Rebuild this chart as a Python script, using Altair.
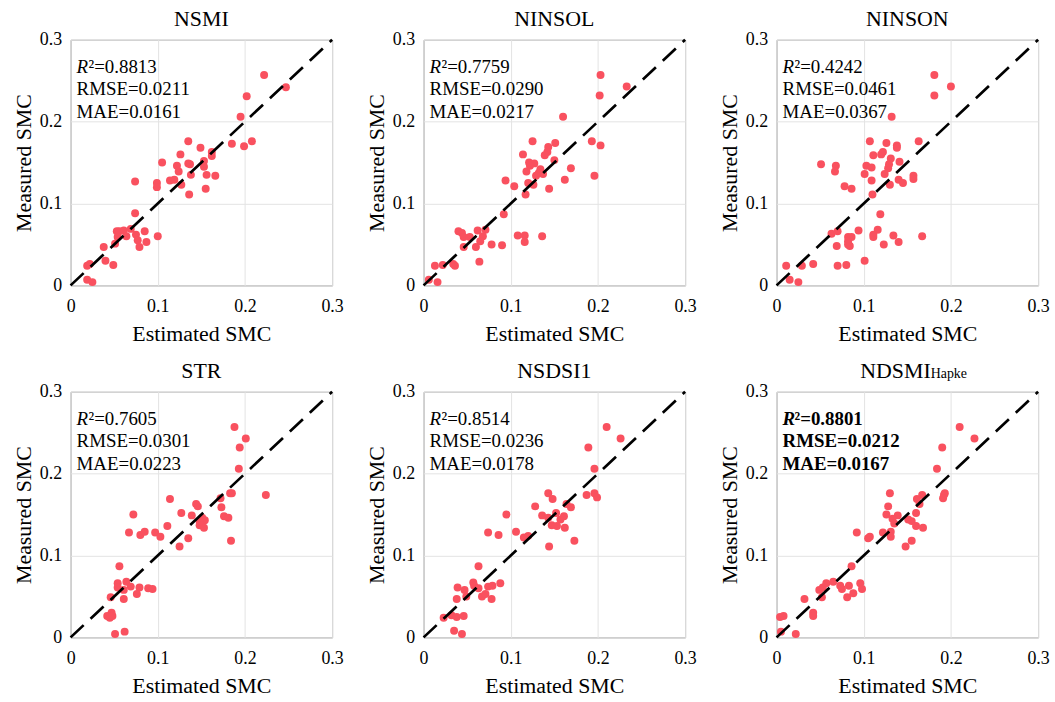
import altair as alt
import pandas as pd

FONT = "Liberation Serif"
POINT_COLOR = "#F9515F"

titles = ["NSMI", "NINSOL", "NINSON", "STR", "NSDSI1", "NDSMI"]
subscripts = ["", "", "", "", "", "Hapke"]
r2_vals = ["0.8813", "0.7759", "0.4242", "0.7605", "0.8514", "0.8801"]
rmse_vals = ["0.0211", "0.0290", "0.0461", "0.0301", "0.0236", "0.0212"]
mae_vals = ["0.0161", "0.0217", "0.0367", "0.0223", "0.0178", "0.0167"]
bold_flags = [False, False, False, False, False, True]

nsmi_est = [0.222, 0.247, 0.202, 0.195, 0.185, 0.199, 0.208, 0.135, 0.149, 0.162, 0.162, 0.126, 0.105, 0.122,
            0.135, 0.137, 0.153, 0.153, 0.124, 0.156, 0.166, 0.138, 0.119, 0.114, 0.127, 0.074, 0.099, 0.099,
            0.136, 0.155, 0.074, 0.053, 0.056, 0.061, 0.069, 0.085, 0.064, 0.075, 0.054, 0.077, 0.087, 0.079,
            0.100, 0.051, 0.038, 0.040, 0.049, 0.019, 0.022, 0.019, 0.025]
nsmi_meas = [0.257, 0.242, 0.231, 0.206, 0.173, 0.170, 0.176, 0.176, 0.168, 0.163, 0.158, 0.160, 0.150, 0.146,
             0.149, 0.148, 0.152, 0.145, 0.139, 0.135, 0.134, 0.135, 0.129, 0.128, 0.123, 0.127, 0.125, 0.120,
             0.111, 0.118, 0.088, 0.066, 0.066, 0.067, 0.069, 0.066, 0.060, 0.062, 0.059, 0.055, 0.053, 0.047,
             0.060, 0.051, 0.047, 0.030, 0.025, 0.024, 0.026, 0.007, 0.004]

ninsol_est = [0.203, 0.233, 0.202, 0.160, 0.193, 0.203, 0.196, 0.125, 0.143, 0.151, 0.142, 0.139, 0.114, 0.150,
              0.121, 0.127, 0.122, 0.118, 0.134, 0.132, 0.137, 0.129, 0.169, 0.162, 0.120, 0.126, 0.144, 0.094,
              0.104, 0.117, 0.092, 0.040, 0.044, 0.046, 0.053, 0.062, 0.071, 0.068, 0.065, 0.046, 0.060, 0.078,
              0.090, 0.108, 0.116, 0.116, 0.136, 0.064, 0.013, 0.022, 0.034, 0.036, 0.006, 0.016]
ninsol_meas = [0.257, 0.243, 0.232, 0.206, 0.176, 0.171, 0.134, 0.176, 0.169, 0.174, 0.163, 0.159, 0.160, 0.153,
               0.150, 0.149, 0.146, 0.139, 0.142, 0.137, 0.136, 0.134, 0.143, 0.129, 0.125, 0.123, 0.118, 0.128,
               0.121, 0.111, 0.087, 0.066, 0.064, 0.059, 0.059, 0.067, 0.068, 0.060, 0.054, 0.047, 0.047, 0.050,
               0.049, 0.061, 0.061, 0.053, 0.060, 0.029, 0.024, 0.025, 0.026, 0.024, 0.007, 0.004]

ninson_est = [0.181, 0.200, 0.181, 0.132, 0.107, 0.126, 0.138, 0.138, 0.163, 0.111, 0.120, 0.122, 0.131, 0.141,
              0.129, 0.103, 0.109, 0.128, 0.124, 0.101, 0.157, 0.157, 0.140, 0.145, 0.130, 0.109, 0.051, 0.068,
              0.067, 0.078, 0.086, 0.110, 0.119, 0.063, 0.070, 0.094, 0.116, 0.082, 0.086, 0.082, 0.082, 0.084,
              0.069, 0.111, 0.111, 0.134, 0.140, 0.123, 0.167, 0.101, 0.011, 0.029, 0.042, 0.070, 0.080, 0.015,
              0.025]
ninson_meas = [0.257, 0.243, 0.232, 0.206, 0.176, 0.174, 0.171, 0.168, 0.176, 0.159, 0.160, 0.163, 0.155, 0.151,
               0.148, 0.146, 0.144, 0.143, 0.136, 0.136, 0.134, 0.130, 0.129, 0.125, 0.123, 0.128, 0.148, 0.146,
               0.139, 0.121, 0.118, 0.111, 0.087, 0.063, 0.066, 0.067, 0.068, 0.059, 0.059, 0.054, 0.050, 0.048,
               0.048, 0.062, 0.059, 0.061, 0.053, 0.050, 0.060, 0.030, 0.024, 0.024, 0.026, 0.024, 0.025, 0.007,
               0.004]

str_est = [0.188, 0.201, 0.194, 0.193, 0.224, 0.183, 0.185, 0.172, 0.173, 0.176, 0.181, 0.114, 0.144, 0.146,
           0.127, 0.139, 0.151, 0.154, 0.148, 0.148, 0.153, 0.111, 0.072, 0.067, 0.080, 0.085, 0.097, 0.103,
           0.135, 0.125, 0.184, 0.056, 0.054, 0.064, 0.054, 0.069, 0.079, 0.089, 0.094, 0.061, 0.076, 0.046,
           0.061, 0.047, 0.042, 0.045, 0.048, 0.051, 0.062]
str_meas = [0.257, 0.243, 0.232, 0.206, 0.174, 0.176, 0.176, 0.170, 0.159, 0.148, 0.146, 0.169, 0.163, 0.160,
            0.152, 0.149, 0.146, 0.143, 0.142, 0.137, 0.134, 0.136, 0.150, 0.128, 0.125, 0.129, 0.128, 0.123,
            0.121, 0.111, 0.118, 0.087, 0.066, 0.068, 0.061, 0.062, 0.061, 0.060, 0.059, 0.058, 0.053, 0.049,
            0.047, 0.030, 0.026, 0.024, 0.026, 0.004, 0.007]

nsdsi1_est = [0.210, 0.226, 0.189, 0.196, 0.187, 0.196, 0.199, 0.143, 0.148, 0.128, 0.164, 0.169, 0.152, 0.136,
              0.143, 0.157, 0.161, 0.147, 0.153, 0.162, 0.095, 0.074, 0.086, 0.106, 0.115, 0.120, 0.144, 0.173,
              0.063, 0.039, 0.047, 0.057, 0.058, 0.063, 0.074, 0.079, 0.088, 0.067, 0.071, 0.078, 0.038, 0.049,
              0.023, 0.032, 0.038, 0.046, 0.035, 0.044]
nsdsi1_meas = [0.257, 0.243, 0.232, 0.206, 0.174, 0.176, 0.171, 0.176, 0.169, 0.160, 0.163, 0.159, 0.152, 0.149,
               0.146, 0.144, 0.148, 0.137, 0.136, 0.134, 0.150, 0.128, 0.125, 0.129, 0.122, 0.124, 0.111, 0.118,
               0.087, 0.061, 0.058, 0.067, 0.063, 0.060, 0.062, 0.063, 0.066, 0.050, 0.053, 0.047, 0.047, 0.050,
               0.024, 0.027, 0.025, 0.026, 0.008, 0.004]

ndsmi_est = [0.210, 0.227, 0.190, 0.184, 0.130, 0.167, 0.161, 0.193, 0.192, 0.191, 0.128, 0.164, 0.126, 0.139,
             0.133, 0.160, 0.151, 0.155, 0.135, 0.160, 0.168, 0.131, 0.131, 0.122, 0.092, 0.107, 0.105, 0.148,
             0.155, 0.086, 0.049, 0.053, 0.057, 0.065, 0.073, 0.075, 0.083, 0.096, 0.098, 0.052, 0.081, 0.088,
             0.032, 0.042, 0.042, 0.004, 0.008, 0.005, 0.022]
ndsmi_meas = [0.257, 0.243, 0.232, 0.206, 0.176, 0.174, 0.169, 0.176, 0.174, 0.170, 0.160, 0.163, 0.150, 0.149,
              0.145, 0.152, 0.144, 0.142, 0.139, 0.136, 0.134, 0.129, 0.123, 0.128, 0.128, 0.123, 0.121, 0.111,
              0.118, 0.087, 0.058, 0.061, 0.066, 0.068, 0.063, 0.059, 0.063, 0.066, 0.059, 0.049, 0.049, 0.054,
              0.047, 0.030, 0.026, 0.025, 0.026, 0.007, 0.004]

est_series = [nsmi_est, ninsol_est, ninson_est, str_est, nsdsi1_est, ndsmi_est]
meas_series = [nsmi_meas, ninsol_meas, ninson_meas, str_meas, nsdsi1_meas, ndsmi_meas]

axis_ticks = [0, 0.1, 0.2, 0.3]
diag_vals = [0, 0.3]

W, H = 263, 247


def text_layer(txt, x, y, size, align="left", italic=False, bold=False):
    kw = dict(align=align, baseline="alphabetic", font=FONT, fontSize=size, color="#000000",
              fontWeight="bold" if bold else "normal",
              fontStyle="italic" if italic else "normal")
    return alt.Chart(pd.DataFrame({"t": [txt]})).mark_text(**kw).encode(
        x=alt.value(x), y=alt.value(y), text="t:N")


def panel(i):
    df = pd.DataFrame({"est": est_series[i], "meas": meas_series[i]})
    xs = alt.Scale(domain=[0, 0.3], nice=False, zero=False)
    ys = alt.Scale(domain=[0, 0.3], nice=False, zero=False)
    xaxis = alt.Axis(values=axis_ticks, format="~g", title="Estimated SMC", labelFlush=False)
    yaxis = alt.Axis(values=axis_ticks, format="~g", title="Measured SMC", labelFlush=False)
    pts = alt.Chart(df).mark_circle(size=64, opacity=1, color=POINT_COLOR).encode(
        x=alt.X("est:Q", scale=xs, axis=xaxis),
        y=alt.Y("meas:Q", scale=ys, axis=yaxis),
    )
    diag = alt.Chart(pd.DataFrame({"v": diag_vals})).mark_line(
        color="black", strokeWidth=2.7, strokeDash=[18, 9.5]).encode(
        x=alt.X("v:Q", scale=xs), y=alt.Y("v:Q", scale=ys))
    b = bold_flags[i]
    layers = [pts, diag]
    if subscripts[i]:
        layers.append(text_layer(titles[i], 155, -14, 22, align="right"))
        layers.append(text_layer(subscripts[i], 155, -14, 14, align="left"))
    else:
        layers.append(text_layer(titles[i], W / 2, -14, 22, align="center"))
    layers.append(text_layer("R", 6, 33, 19, italic=True, bold=b))
    layers.append(text_layer("\u00b2=" + r2_vals[i], 18, 33, 19, bold=b))
    layers.append(text_layer("RMSE=" + rmse_vals[i], 6, 56, 19, bold=b))
    layers.append(text_layer("MAE=" + mae_vals[i], 6, 79, 19, bold=b))
    return alt.layer(*layers).properties(width=W, height=H)


chart = alt.concat(
    *[panel(i) for i in range(6)],
    columns=3,
    spacing={"row": 107, "column": 92},
    bounds="flush",
).properties(
    padding={"left": 12, "top": 5, "right": 5, "bottom": 5},
    background="white",
).configure_view(
    stroke="#808080", strokeWidth=1
).configure_axis(
    grid=True, gridColor="#e3e3e3", gridWidth=1, domain=False, ticks=False,
    labelFont=FONT, labelFontSize=18, labelColor="#000000", labelPadding=10,
    titleFont=FONT, titleFontSize=22, titleFontWeight="normal", titleColor="#000000",
).configure_axisX(titlePadding=8, labelPadding=12).configure_axisY(titlePadding=4, labelPadding=9)

chart.save("out.html", embed_options={"renderer": "svg", "actions": False})
